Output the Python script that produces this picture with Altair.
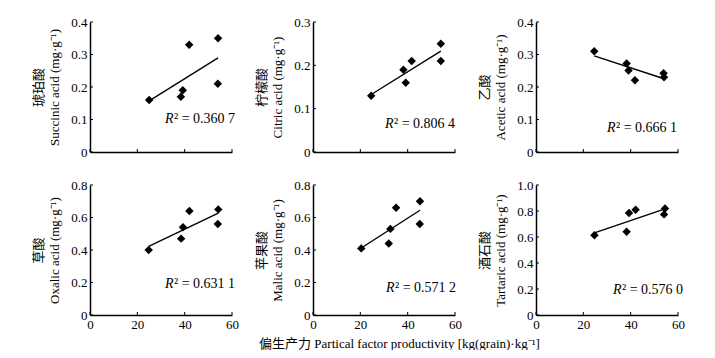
import altair as alt
import pandas as pd

FONT = "Liberation Serif, Noto Sans CJK SC, serif"

# ---- data ----
succ_x = [25.0, 38.4, 39.2, 41.9, 54.1, 54.0]
succ_y = [0.16, 0.17, 0.19, 0.33, 0.35, 0.21]
citr_x = [24.6, 38.2, 39.2, 41.7, 54.0, 54.0]
citr_y = [0.13, 0.19, 0.16, 0.21, 0.25, 0.21]
acet_x = [24.6, 38.3, 39.1, 41.8, 53.9, 54.1]
acet_y = [0.31, 0.272, 0.251, 0.221, 0.242, 0.23]
oxal_x = [24.8, 38.5, 39.3, 42.0, 54.2, 54.0]
oxal_y = [0.40, 0.47, 0.54, 0.64, 0.65, 0.56]
mali_x = [20.4, 32.0, 32.7, 35.1, 45.2, 45.1]
mali_y = [0.41, 0.44, 0.53, 0.66, 0.70, 0.56]
tart_x = [24.7, 38.3, 39.3, 42.1, 54.1, 54.5]
tart_y = [0.613, 0.64, 0.785, 0.81, 0.774, 0.82]

names_cn = ["琥珀酸", "柠檬酸", "乙酸", "草酸", "苹果酸", "酒石酸"]
names_en = ["Succinic acid", "Citric acid", "Acetic acid",
            "Oxalic acid", "Malic acid", "Tartaric acid"]
r2_values = ["0.360 7", "0.806 4", "0.666 1", "0.631 1", "0.571 2", "0.576 0"]
y_ticks = [
    [0, 0.1, 0.2, 0.3, 0.4],
    [0, 0.1, 0.2, 0.3],
    [0, 0.1, 0.2, 0.3, 0.4],
    [0, 0.2, 0.4, 0.6, 0.8],
    [0, 0.2, 0.4, 0.6, 0.8],
    [0, 0.2, 0.4, 0.6, 0.8, 1.0],
]
x_ticks = [0, 20, 40, 60]
x_title = "偏生产力 Partical factor productivity [kg(grain)·kg⁻¹]"

# ---- layout / style constants ----
W, H = 142, 130
R2_POS = [(75, 97), (72, 102), (71, 106), (75, 99), (73, 103), (77, 105)]


def panel(i, xs, ys, bottom_row, xtitle=None):
    df = pd.DataFrame({"x": xs, "y": ys})
    xscale = alt.Scale(domain=[0, 60], nice=False, zero=False)
    yscale = alt.Scale(domain=[0, y_ticks[i][-1]], nice=False, zero=False)
    xaxis_kw = dict(values=x_ticks, labels=bottom_row, ticks=False, format="d",
                    labelFlush=False, title=xtitle if xtitle else None)
    if xtitle:
        xaxis_kw.update(titleX=86, titleAlign="center", titlePadding=6)
    xaxis = alt.Axis(**xaxis_kw)
    yaxis = alt.Axis(values=y_ticks[i], ticks=False,
                     labelExpr="datum.value == 0 ? '0' : format(datum.value, '.1f')",
                     title=[names_cn[i], names_en[i] + " (mg·g⁻¹)"],
                     titlePadding=9, titleLineHeight=16)
    X = lambda: alt.X("x:Q", scale=xscale, axis=xaxis)
    Y = lambda: alt.Y("y:Q", scale=yscale, axis=yaxis)
    pts = alt.Chart(df).mark_point(shape="diamond", filled=True, color="black",
                                   size=72, opacity=1).encode(x=X(), y=Y())
    line = alt.Chart(df).transform_regression("x", "y").mark_line(
        color="black", strokeWidth=1.4).encode(x=X(), y=Y())
    xt = alt.Chart(pd.DataFrame({"x": x_ticks})).mark_rule(
        color="black", strokeWidth=1).encode(
        x=X(), y=alt.value(H), y2=alt.value(H - 3))
    yt = alt.Chart(pd.DataFrame({"y": y_ticks[i]})).mark_rule(
        color="black", strokeWidth=1).encode(
        y=Y(), x=alt.value(0), x2=alt.value(3))
    px, py = R2_POS[i]
    r_it = alt.Chart(pd.DataFrame({"t": ["R"]})).mark_text(
        font=FONT, fontSize=14, fontStyle="italic", align="left",
        baseline="middle", color="black").encode(
        x=alt.value(px), y=alt.value(py), text="t:N")
    r_rest = alt.Chart(pd.DataFrame({"t": ["² = " + r2_values[i]]})).mark_text(
        font=FONT, fontSize=14, align="left", baseline="middle",
        color="black").encode(
        x=alt.value(px + 9), y=alt.value(py), text="t:N")
    return alt.layer(line, pts, xt, yt, r_it, r_rest).properties(width=W, height=H)


p1 = panel(0, succ_x, succ_y, False)
p2 = panel(1, citr_x, citr_y, False)
p3 = panel(2, acet_x, acet_y, False)
p4 = panel(3, oxal_x, oxal_y, True)
p5 = panel(4, mali_x, mali_y, True, xtitle=x_title)
p6 = panel(5, tart_x, tart_y, True)

chart = alt.concat(p1, p2, p3, p4, p5, p6, columns=3,
                   spacing={"row": 33, "column": 81}, bounds="flush").properties(
    padding={"left": 24, "top": 8, "right": 5, "bottom": 0},
    background="white",
).configure_view(stroke=None).configure_axis(
    domainColor="black", domainWidth=1.5, grid=False,
    labelFont=FONT, labelFontSize=13, labelColor="black", labelPadding=3,
    titleFont=FONT, titleFontSize=13, titleFontWeight="normal", titleColor="black",
)

chart.save("out.html", embed_options={"renderer": "svg", "actions": False})
